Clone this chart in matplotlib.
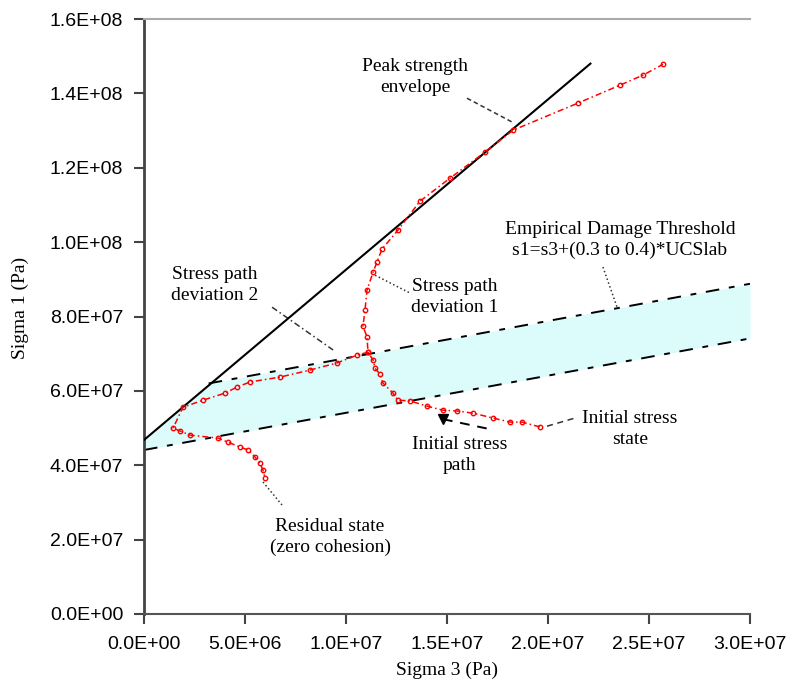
import matplotlib
matplotlib.use('Agg')
import matplotlib.pyplot as plt
import numpy as np
from matplotlib.ticker import FormatStrFormatter

plt.rcParams['font.family'] = ['Liberation Serif', 'DejaVu Serif']
plt.rcParams['font.size'] = 14

# peak strength envelope (Pa)
env_s3 = [0.0, 2.21e7]
env_s1 = [4.68e7, 1.48e8]

# empirical damage threshold band, s1 = s3 + (0.3 to 0.4)*UCSlab
thr_s3 = [0.0, 3.0e7]
thr_low = [4.41e7, 7.41e7]
thr_high = [5.88e7, 8.88e7]
thr_high_start = 3.2e6  # upper bound starts where it meets the envelope

# main stress path, from the initial stress state
path_s3 = [1.960e7, 1.871e7, 1.812e7, 1.728e7, 1.629e7, 1.550e7, 1.480e7, 1.401e7,
           1.317e7, 1.257e7, 1.233e7, 1.183e7, 1.168e7, 1.144e7, 1.134e7, 1.109e7,
           1.104e7, 1.084e7, 1.094e7, 1.104e7, 1.134e7, 1.153e7, 1.178e7, 1.257e7,
           1.366e7, 1.515e7, 1.688e7, 1.827e7, 2.149e7, 2.356e7, 2.470e7, 2.569e7]
path_s1 = [5.03e7, 5.16e7, 5.16e7, 5.27e7, 5.40e7, 5.46e7, 5.48e7, 5.59e7,
           5.73e7, 5.75e7, 5.94e7, 6.21e7, 6.45e7, 6.61e7, 6.83e7, 7.04e7,
           7.45e7, 7.74e7, 8.17e7, 8.71e7, 9.19e7, 9.46e7, 9.81e7, 1.032e8,
           1.110e8, 1.172e8, 1.242e8, 1.301e8, 1.374e8, 1.422e8, 1.449e8, 1.478e8]

# deviation 2 branch, down to the residual state
dev2_s3 = [1.109e7, 1.054e7, 9.55e6, 8.22e6, 6.73e6, 5.25e6, 4.60e6, 4.01e6, 2.92e6,
           1.93e6, 1.44e6, 1.78e6, 2.28e6, 3.66e6, 4.16e6, 4.75e6, 5.15e6, 5.50e6,
           5.74e6, 5.89e6, 5.99e6]
dev2_s1 = [7.04e7, 6.96e7, 6.75e7, 6.56e7, 6.37e7, 6.24e7, 6.10e7, 5.94e7, 5.75e7,
           5.56e7, 5.00e7, 4.92e7, 4.81e7, 4.73e7, 4.62e7, 4.49e7, 4.41e7, 4.22e7,
           4.06e7, 3.87e7, 3.66e7]

# initial stress path symbol
init_s3 = [1.480e7, 1.713e7]
init_s1 = [5.24e7, 4.97e7]

fig = plt.figure(figsize=(7.91, 6.86), dpi=100)
ax = fig.add_axes([144/791, 1-614/686, (750-144)/791, (614-19)/686])

# shaded band between the thresholds, capped by the envelope
xs = np.linspace(thr_s3[0], thr_s3[1], 400)
low = np.interp(xs, thr_s3, thr_low)
high = np.interp(xs, thr_s3, thr_high)
env = np.interp(xs, env_s3, env_s1, right=np.inf)
ax.fill_between(xs, low, np.minimum(high, env), color='#dcfbfb', lw=0, zorder=1)

dash = (0, (7, 5, 3, 5))
ax.plot(thr_s3, thr_low, color='black', lw=1.4, ls=dash, zorder=2)
hx = [thr_high_start, thr_s3[1]]
ax.plot(hx, np.interp(hx, thr_s3, thr_high), color='black', lw=1.4, ls=dash, zorder=2)

ax.plot(env_s3, env_s1, color='black', lw=1.5, zorder=3)

red_ls = (0, (4, 2, 1, 2))
for sx, sy in [(path_s3, path_s1), (dev2_s3, dev2_s1)]:
    ax.plot(sx, sy, color='red', lw=1.1, ls=red_ls, marker='o', ms=3.2,
            mfc='none', mec='red', mew=1, zorder=4)

ax.plot(init_s3, init_s1, color='black', lw=1.4, ls=(0, (5, 4)), zorder=4)
ax.plot(init_s3[0], init_s1[0], marker='v', color='black', ms=7, zorder=5)

# leader lines and labels
lead = dict(color='#333333', lw=1.1)
ax.plot([1.599e7, 1.822e7], [1.387e8, 1.323e8], ls=(0, (3, 2)), **lead)
ax.plot([1.144e7, 1.317e7], [9.11e7, 8.63e7], ls=':', **lead)
ax.plot([6.34e6, 9.36e6], [8.25e7, 7.10e7], ls=(0, (4, 2, 1, 2)), **lead)
ax.plot([2.272e7, 2.342e7], [9.33e7, 8.25e7], ls=':', **lead)
ax.plot([1.995e7, 2.134e7], [5.05e7, 5.27e7], ls=(0, (4, 3)), **lead)
ax.plot([5.89e6, 6.88e6], [3.55e7, 2.90e7], ls=':', **lead)

tkw = dict(ha='center', va='center', fontsize=14, linespacing=1.3)
ax.text(1.342e7, 1.444e8, 'Peak strength\nenvelope', **tkw)
ax.text(1.540e7, 8.52e7, 'Stress path\ndeviation 1', **tkw)
ax.text(3.51e6, 8.84e7, 'Stress path\ndeviation 2', **tkw)
ax.text(2.356e7, 1.005e8, 'Empirical Damage Threshold\ns1=s3+(0.3 to 0.4)*UCSlab', **tkw)
ax.text(2.406e7, 4.97e7, 'Initial stress\nstate', **tkw)
ax.text(1.564e7, 4.27e7, 'Initial stress\npath', **tkw)
ax.text(9.21e6, 2.07e7, 'Residual state\n(zero cohesion)', **tkw)

ax.set_xlim(0, 3.0e7)
ax.set_ylim(0, 1.6e8)
ax.set_xticks(np.arange(0, 3.01e7, 5e6))
ax.set_yticks(np.arange(0, 1.61e8, 2e7))
ax.xaxis.set_major_formatter(FormatStrFormatter('%.1E'))
ax.yaxis.set_major_formatter(FormatStrFormatter('%.1E'))
ax.tick_params(direction='out', length=7, width=1.5, colors='#444444',
               labelcolor='black', labelsize=14)
ax.tick_params(axis='y', pad=8)
ax.tick_params(axis='x', pad=9)
for lab in ax.get_xticklabels() + ax.get_yticklabels():
    lab.set_family(['Liberation Sans', 'DejaVu Sans'])

ax.set_xlabel('Sigma 3 (Pa)', fontsize=14)
ax.set_ylabel('Sigma 1 (Pa)', fontsize=14)
ax.xaxis.set_label_coords(0.5, -0.08)
ax.yaxis.set_label_coords(-0.19, 0.515)

ax.spines['right'].set_visible(False)
ax.spines['top'].set_color('#aaaaaa')
ax.spines['top'].set_linewidth(1.5)
ax.spines['left'].set_color('#444444')
ax.spines['left'].set_linewidth(2)
ax.spines['bottom'].set_color('#555555')
ax.spines['bottom'].set_linewidth(1.5)

fig.savefig('out.png', dpi=100)
